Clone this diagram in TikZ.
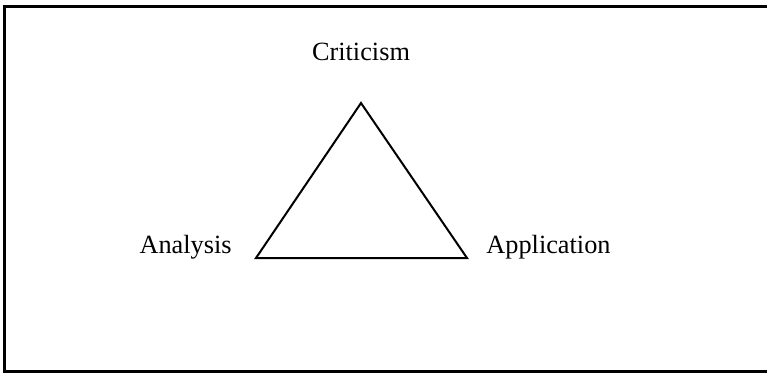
\documentclass[tikz,border=0pt]{standalone}
\usepackage{fontspec}
\setmainfont{Liberation Serif}
\begin{document}
\begin{tikzpicture}[x=0.5bp,y=-0.5bp,
  lbl/.style={inner sep=0pt,font=\fontsize{13.2}{15}\selectfont},
  frame/.style={line width=1.5bp,line cap=rect},
  tri/.style={line width=1bp,line join=miter}]
\useasboundingbox (0,0) rectangle (767,373);
\draw[frame] (767,6) -- (4,6) -- (4,371) -- (767,371);
\coordinate (top) at (361,103);
\coordinate (bl) at (256,258);
\coordinate (br) at (467,258);
\draw[tri] (top) -- (bl) -- (br) -- cycle;
\node[lbl,anchor=base] (crit) at (361,60) {Criticism};
\node[lbl,anchor=base east] (ana) at (232,253) {Analysis};
\node[lbl,anchor=base west] (app) at (486,253) {Application};
\end{tikzpicture}
\end{document}
